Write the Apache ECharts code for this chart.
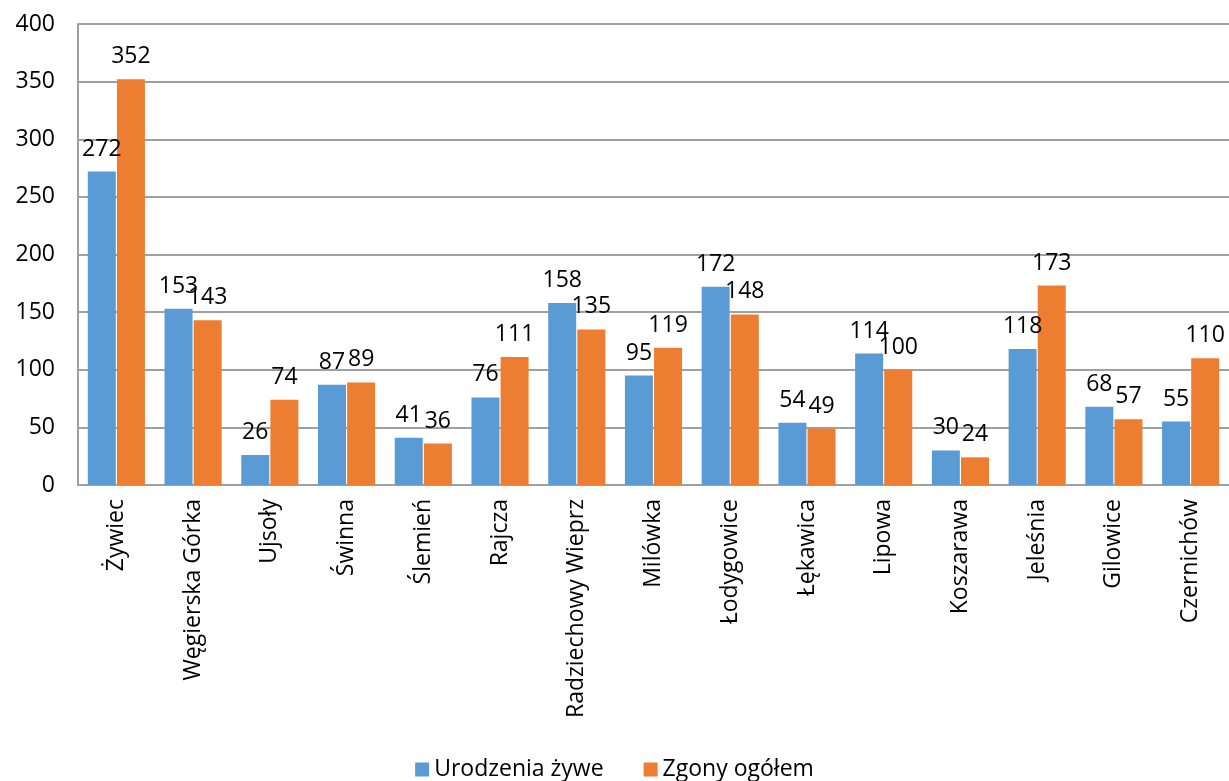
<!DOCTYPE html>
<html><head><meta charset="utf-8">
<script src="https://cdn.jsdelivr.net/npm/echarts@6/dist/echarts.min.js"></script>
<style>html,body{margin:0;padding:0;background:#fff}#c{width:1229px;height:781px}</style>
</head><body><div id="c"></div>
<script>
const categories = ['Żywiec','Węgierska Górka','Ujsoły','Świnna','Ślemień','Rajcza','Radziechowy Wieprz','Milówka','Łodygowice','Łękawica','Lipowa','Koszarawa','Jeleśnia','Gilowice','Czernichów'];
const births = [272,153,26,87,41,76,158,95,172,54,114,30,118,68,55];
const deaths = [352,143,74,89,36,111,135,119,148,49,100,24,173,57,110];
const seriesNames = ['Urodzenia żywe','Zgony ogółem'];

const FONT = '"Open Sans", sans-serif';
const FS = 23;
const chart = echarts.init(document.getElementById('c'));
const lbl = {show:true, position:'top', distance:11, color:'#000', fontSize:FS, fontFamily:FONT};
chart.setOption({
  animation:false,
  textStyle:{fontFamily:FONT},
  grid:{left:78, right:-1, top:24, bottom:296, containLabel:false},
  legend:{bottom:-5, left:'center', itemWidth:14, itemHeight:14, itemGap:40, icon:'rect',
    textStyle:{fontSize:FS, color:'#000', fontFamily:FONT}, data:seriesNames},
  xAxis:{type:'category', data:categories,
    axisLine:{lineStyle:{color:'#a0a0a0', width:2}}, axisTick:{show:false},
    axisLabel:{rotate:90, interval:0, margin:14, fontSize:FS, color:'#000', fontFamily:FONT}},
  yAxis:{type:'value', min:0, max:400, interval:50,
    axisLine:{show:true, lineStyle:{color:'#a0a0a0', width:2}}, axisTick:{show:false},
    splitLine:{lineStyle:{color:'#a0a0a0', width:2}},
    axisLabel:{margin:23, fontSize:FS, color:'#000', fontFamily:FONT}},
  series:[
    {name:seriesNames[0], type:'bar', data:births, barWidth:28, barGap:'4%',
      itemStyle:{color:'#5B9BD5'}, label:lbl},
    {name:seriesNames[1], type:'bar', data:deaths, barWidth:28,
      itemStyle:{color:'#ED7D31'}, label:lbl}
  ]
});
</script></body></html>
